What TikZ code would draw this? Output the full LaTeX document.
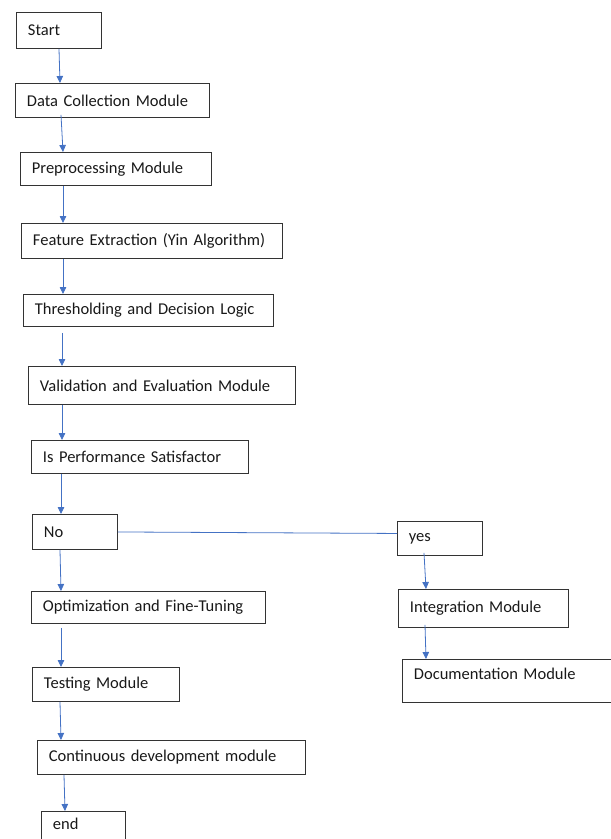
\documentclass[tikz,border=0pt]{standalone}
\usepackage{xcolor}
\usepackage{fontspec}
\setmainfont{Carlito}
\usepackage{tikz}
\usetikzlibrary{arrows.meta}

\definecolor{azul}{HTML}{4472C4}
\definecolor{borda}{HTML}{333333}

\begin{document}
\begin{tikzpicture}[x=1pt, y=-1pt,
  box/.style={draw=borda, line width=0.9pt, anchor=north west, inner xsep=11.5pt, inner ysep=0pt,
    align=left, text=black!90, font=\fontsize{16.5}{19}\selectfont},
  arr/.style={-{Triangle[length=7pt,width=6.5pt]}, azul, line width=0.8pt}]

% Area da figura
\useasboundingbox (0,0) rectangle (611,839);
\clip (0,0) rectangle (611,839);

% Caixas (coluna principal)
\node[box, text width=62pt, minimum height=36pt] (start) at (16,12) {Start};
\node[box, text width=171pt, minimum height=34pt] (data) at (15,83) {Data Collection Module};
\node[box, text width=168pt, minimum height=33pt] (prep) at (20,152) {Preprocessing Module};
\node[box, text width=238pt, minimum height=35pt] (feat) at (21,223) {Feature Extraction (Yin Algorithm)};
\node[box, text width=227pt, minimum height=32pt] (thr) at (23,294) {Thresholding and Decision Logic};
\node[box, text width=244pt, minimum height=38pt] (val) at (28,366) {Validation and Evaluation Module};
\node[box, text width=194pt, minimum height=33pt] (perf) at (31,440) {Is Performance Satisfactor};
\node[box, text width=62pt, minimum height=35pt] (no) at (32,514) {No};
\node[box, text width=211pt, minimum height=32pt] (opt) at (31,591) {Optimization and Fine-Tuning};
\node[box, text width=124pt, minimum height=34pt] (test) at (32,667) {Testing Module};
\node[box, text width=245pt, minimum height=34pt] (cont) at (37,740) {Continuous development module};
\node[box, text width=61pt, minimum height=45pt, text depth=20pt] (end) at (41,811) {end};

% Caixas (ramo da direita)
\node[box, text width=62pt, minimum height=34pt] (yes) at (397,521) {yes};
\node[box, text width=147pt, minimum height=38pt] (integ) at (398,589) {Integration Module};
\node[box, text width=217pt, minimum height=43pt, text depth=14pt] (doc) at (402,659) {Documentation Module};

% Setas
\draw[arr] ([xshift=43pt]start.south west) -- ([xshift=45pt]data.north west);
\draw[arr] ([xshift=46pt,yshift=3pt]data.south west) -- ([xshift=43pt]prep.north west);
\draw[arr] ([xshift=43pt]prep.south west) -- ([xshift=42pt]feat.north west);
\draw[arr] ([xshift=42pt]feat.south west) -- ([xshift=40pt]thr.north west);
\draw[arr] ([xshift=39pt,yshift=-6pt]thr.south west) -- ([xshift=34pt]val.north west);
\draw[arr] ([xshift=34pt]val.south west) -- ([xshift=31pt]perf.north west);
\draw[arr] ([xshift=30pt]perf.south west) -- ([xshift=29pt]no.north west);
\draw[arr] ([xshift=28pt]no.south west) -- ([xshift=30pt]opt.north west);
\draw[arr] ([xshift=30pt,yshift=-4pt]opt.south west) -- ([xshift=29pt]test.north west);
\draw[arr] ([xshift=28pt]test.south west) -- ([xshift=24pt]cont.north west);
\draw[arr] ([xshift=27pt]cont.south west) -- ([xshift=24pt]end.north west);

% Ligacao No -- yes
\draw[azul, line width=0.8pt] (no.east) -- ([yshift=5pt]yes.west);

% Setas do ramo da direita
\draw[arr] ([xshift=27pt,yshift=3pt]yes.south west) -- ([xshift=28pt]integ.north west);
\draw[arr] ([xshift=27pt,yshift=3pt]integ.south west) -- ([xshift=24pt]doc.north west);

\end{tikzpicture}
\end{document}
